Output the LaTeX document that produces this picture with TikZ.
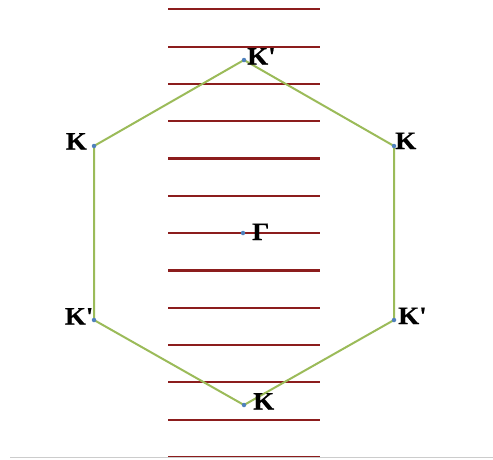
\documentclass[tikz,border=0pt]{standalone}
\usepackage{fontspec}
\setmainfont{Liberation Serif}
\newfontfamily\lblfont[FakeStretch=1.08,FakeBold=0.6]{Liberation Serif Bold}
\definecolor{barred}{HTML}{8C1D1D}
\definecolor{hexgreen}{HTML}{9BBB59}
\definecolor{dotblue}{HTML}{4F81BD}
\begin{document}
\begin{tikzpicture}[x=1pt,y=-1pt,
  bar/.style={draw=barred,line width=2.2pt},
  hexline/.style={draw=hexgreen,line width=2pt,line join=miter},
  pt/.style={circle,fill=dotblue,inner sep=0pt,minimum size=4.5pt},
  lbl/.style={font=\lblfont\fontsize{25}{25}\selectfont,inner sep=0pt}]
\useasboundingbox (0,0) rectangle (493,459);
% horizontal bars
\foreach \i in {0,...,12}{
  \coordinate (bl\i) at (168,{9.3+37.3*\i});
  \coordinate (br\i) at (320,{9.3+37.3*\i});
  \draw[bar] (bl\i) -- (br\i);
}
% bottom frame line
\coordinate (gl) at (10,457.5);
\coordinate (gr) at (493,457.5);
\draw[draw=black!20,line width=0.8pt] (gl) -- (gr);
% hexagon vertices
\coordinate (top) at (244,60);
\coordinate (ur) at (394,146);
\coordinate (lr) at (394,320);
\coordinate (bot) at (244,405);
\coordinate (ll) at (94,320);
\coordinate (ul) at (94,146);
\coordinate (gam) at (243,233);
\draw[hexline] (top) -- (ur) -- (lr) -- (bot) -- (ll) -- (ul) -- cycle;
\foreach \p in {top,ur,lr,bot,ll,ul,gam}{\node[pt] (d\p) at (\p) {};}
% labels
\node[lbl,anchor=base west] (Ltop) at (247,64.5) {K\textquotesingle};
\node[lbl,anchor=base west] (Lur) at (395,149) {K};
\node[lbl,anchor=base west] (Llr) at (398,324) {K\textquotesingle};
\node[lbl,anchor=base west] (Lbot) at (253,409.5) {K};
\node[lbl,anchor=base east] (Lll) at (93,324.5) {K\textquotesingle};
\node[lbl,anchor=base east] (Lul) at (87,149.5) {K};
\node[lbl,anchor=base west] (Lgam) at (252,240) {Γ};
\end{tikzpicture}
\end{document}
